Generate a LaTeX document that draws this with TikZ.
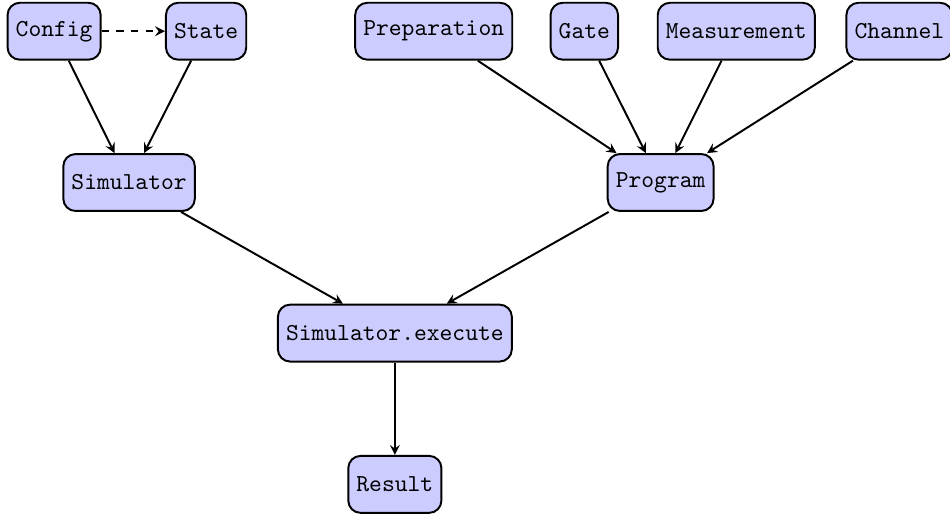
\documentclass[tikz,border=0pt]{standalone}
\usepackage{amsmath}
\usepackage{tikz}
\usetikzlibrary{arrows}

\tikzset{
  block/.style={draw, thick, rounded corners=5pt, fill=blue!20, font=\ttfamily, minimum height=0.82cm},
  link/.style={->, >=stealth, thick},
}

\begin{document}
\begin{tikzpicture}
\useasboundingbox (0,0) rectangle (13.69,-7.45);

% Top row
\node[block] (config) at (0.78,-0.45) {Config};
\node[block] (state) at (2.97,-0.45) {State};
\node[block] (prep) at (6.25,-0.45) {Preparation};
\node[block] (gate) at (8.42,-0.45) {Gate};
\node[block] (meas) at (10.61,-0.45) {Measurement};
\node[block] (chan) at (12.96,-0.45) {Channel};

% Middle row
\node[block] (sim) at (1.86,-2.63) {Simulator};
\node[block] (prog) at (9.52,-2.63) {Program};

% Bottom
\node[block] (exec) at (5.69,-4.80) {Simulator.execute};
\node[block] (result) at (5.69,-6.98) {Result};

% Arrows
\draw[link, dashed] (config) -- (state);
\draw[link] (config) -- (sim);
\draw[link] (state) -- (sim);
\draw[link] (prep) -- (prog);
\draw[link] (gate) -- (prog);
\draw[link] (meas) -- (prog);
\draw[link] (chan) -- (prog);
\draw[link] (sim) -- (exec);
\draw[link] (prog) -- (exec);
\draw[link] (exec) -- (result);

\end{tikzpicture}
\end{document}
